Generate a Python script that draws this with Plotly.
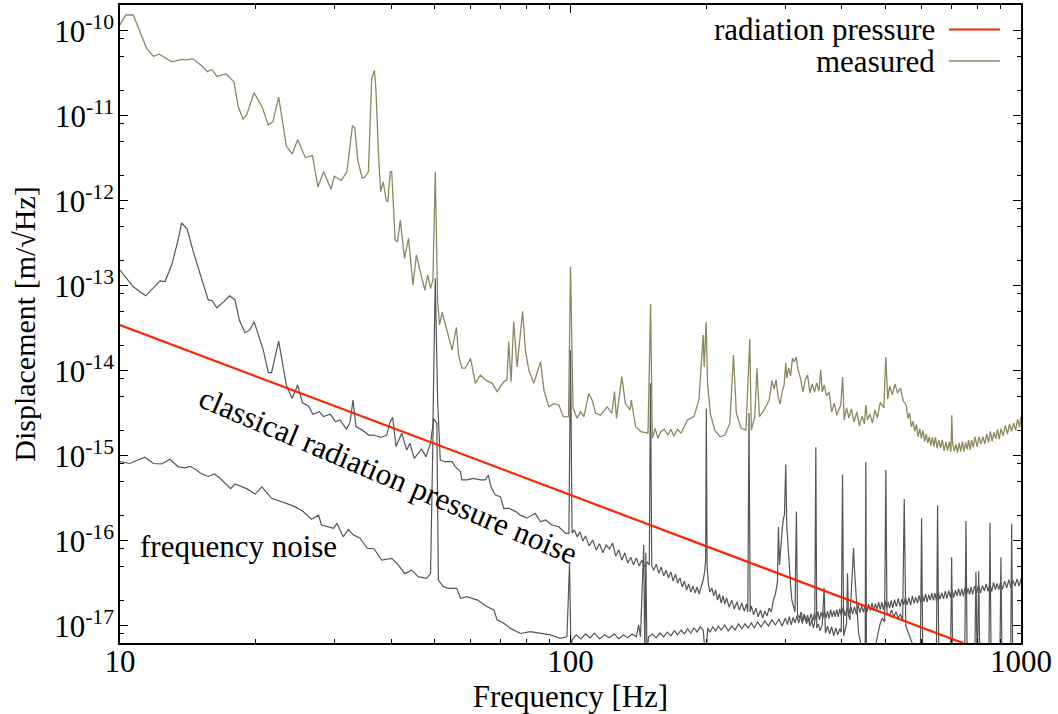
import plotly.graph_objects as go

# ---------------- data (frequency [Hz], displacement [m/sqrt(Hz)]) ----------------
measured = [
    (10.0, 1.17e-10), (10.3, 1.53e-10), (10.7, 1.53e-10), (11.08, 9.7e-11), (11.46, 6.2e-11),
    (11.86, 5.0e-11), (12.23, 5.3e-11), (13.02, 4.3e-11), (13.71, 4.6e-11), (14.0, 4.5e-11),
    (14.5, 4.7e-11), (15.2, 3.85e-11), (15.63, 3.3e-11), (16.0, 3.5e-11), (16.4, 2.9e-11),
    (17.2, 3.1e-11), (17.9, 2.5e-11), (18.3, 1.28e-11), (18.75, 9.1e-12), (19.1, 1.02e-11),
    (19.85, 1.86e-11), (20.65, 1.28e-11), (21.35, 7.8e-12), (21.85, 8.5e-12), (22.5, 1.65e-11),
    (23.4, 4.4e-12), (24.1, 3.55e-12), (24.8, 5.2e-12), (25.8, 3.2e-12), (26.75, 3.4e-12),
    (27.5, 1.45e-12), (28.3, 2.2e-12), (29.4, 1.36e-12), (29.9, 1.94e-12), (31.0, 1.73e-12),
    (31.9, 2.2e-12), (32.8, 7.6e-12), (33.2, 7.2e-12), (33.7, 3.0e-12), (34.5, 1.84e-12),
    (35.0, 1.9e-12), (35.6, 2.2e-12), (36.2, 2.75e-11), (36.7, 3.4e-11), (37.0, 2.0e-11),
    (37.5, 3.3e-12), (37.9, 1.28e-12), (38.4, 1.67e-12), (39.0, 1.0e-12), (39.3, 9.7e-13),
    (39.8, 2.2e-12), (40.1, 2.2e-12), (40.8, 3.45e-13), (41.3, 3.3e-13), (41.9, 5.9e-13),
    (42.8, 2.1e-13), (43.7, 3.6e-13), (44.7, 1.02e-13), (45.5, 2.3e-13), (46.4, 1.46e-13),
    (47.5, 8.9e-14), (48.2, 1.34e-13), (48.9, 9.3e-14), (49.5, 1.17e-13), (50.1, 2.19e-12),
    (50.7, 6.8e-14), (51.2, 3.45e-14), (51.9, 4.9e-14), (53.0, 3.3e-14), (53.7, 2.4e-14),
    (54.6, 1.75e-14), (55.8, 3.24e-14), (56.5, 1.46e-14), (57.4, 1.07e-14), (58.4, 1.07e-14),
    (60.0, 1.4e-14), (61.5, 7.1e-15), (63.1, 8.9e-15), (64.7, 7.8e-15), (67.0, 7.1e-15),
    (68.7, 5.7e-15), (71.1, 7.4e-15), (72.3, 7.8e-15), (72.9, 2.2e-14), (73.8, 7.4e-15),
    (74.8, 3.8e-14), (76.1, 1.11e-14), (78.3, 5.0e-14), (79.4, 1.75e-14), (80.8, 1.02e-14),
    (82.9, 7.1e-15), (85.8, 1.28e-14), (87.3, 5.9e-15), (89.5, 3.77e-15), (91.8, 4.1e-15),
    (94.2, 3.95e-15), (96.4, 2.88e-15), (99.0, 2.88e-15), (100.0, 1.67e-13), (101.3, 3.64e-15),
    (103.4, 2.75e-15), (105.3, 3.3e-15), (107.1, 2.88e-15), (109.8, 5.4e-15), (111.7, 4.5e-15),
    (113.7, 3.15e-15), (116.6, 3.0e-15), (120.6, 3.77e-15), (123.6, 3.15e-15), (125.2, 5.7e-15),
    (126.5, 2.75e-15), (130.0, 8.5e-15), (132.4, 4.1e-15), (135.6, 3.45e-15), (136.4, 4.5e-15),
    (139.5, 2.2e-15), (143.3, 1.92e-15), (148.6, 1.84e-15), (150.6, 6.1e-14), (151.9, 1.6e-15),
    (154.2, 2.1e-15), (156.3, 1.6e-15), (158.5, 1.9e-15), (161.5, 2.05e-15), (164.5, 1.75e-15),
    (167.0, 2.05e-15), (169.7, 1.7e-15), (172.8, 2.05e-15), (175.9, 1.84e-15), (178.8, 2.2e-15),
    (181.7, 2.63e-15), (187.9, 2.88e-15), (192.8, 4.5e-15), (197.0, 2.63e-14), (198.0, 1.11e-14),
    (200.0, 3.74e-14), (201.5, 7.1e-15), (204.3, 3.15e-15), (209.0, 2.0e-15), (214.7, 1.67e-15),
    (220.0, 1.75e-15), (225.8, 2.4e-15), (230.0, 1.53e-14), (233.4, 3.15e-15), (239.2, 2.1e-15),
    (245.2, 2.0e-15), (250.0, 2.34e-14), (252.0, 2.0e-15), (256.4, 2.88e-15), (259.4, 1.07e-14),
    (262.7, 2.88e-15), (269.0, 3.45e-15), (276.0, 4.5e-15),
    (280, 7.6e-15), (283, 6.07e-15), (286, 7.8e-15), (289, 4.92e-15), (292, 4.05e-15),
    (295, 5.6e-15), (298, 6.8e-15), (300.5, 1.24e-14), (302, 8.2e-15), (305, 1.08e-14),
    (308, 8.7e-15), (311, 1.41e-14), (314, 1.27e-14), (317, 1.45e-14), (320, 1.02e-14),
    (324, 8.2e-15), (328, 5.6e-15), (332, 7.8e-15), (336, 8.9e-15), (340, 5.45e-15),
    (344, 7.0e-15), (348, 5.6e-15), (352, 7.2e-15), (356, 5.75e-15), (359.4, 1.02e-14),
    (362, 5.6e-15), (366, 6.8e-15), (370, 5.05e-15), (375, 5.6e-15), (380, 3.27e-15),
    (385, 4.15e-15), (390, 3.0e-15), (398, 3.95e-15), (402, 8.45e-15), (405, 2.63e-15),
    (410, 3.65e-15), (415, 2.78e-15), (420, 3.55e-15), (426, 2.49e-15), (432, 3.27e-15),
    (438, 2.24e-15), (444, 2.92e-15), (449, 2.36e-15), (452.4, 3.95e-15), (456, 2.63e-15),
    (462, 3.08e-15), (468, 2.42e-15), (474, 3.45e-15), (480, 2.78e-15), (487, 4.25e-15),
    (496, 3.65e-15), (501, 1.45e-14), (506, 4.65e-15), (511, 6.6e-15), (518, 5.2e-15),
    (525, 7.0e-15), (532, 5.45e-15), (540, 6.25e-15), (548, 4.4e-15),
    (556, 3.96e-15), (561, 2.73e-15), (566, 3.19e-15), (571, 2.18e-15), (576, 2.53e-15),
    (581, 1.94e-15), (586, 2.34e-15), (591, 1.68e-15), (596, 2.08e-15), (601, 1.6e-15),
    (606, 1.99e-15), (611, 1.47e-15), (616, 1.81e-15), (621, 1.41e-15), (626, 1.67e-15),
    (631, 1.31e-15), (636, 1.66e-15), (641, 1.28e-15), (646, 1.66e-15), (651, 1.23e-15),
    (657, 1.53e-15), (663, 1.23e-15), (669, 1.54e-15), (675, 1.14e-15), (681, 1.45e-15),
    (687, 1.15e-15), (693, 1.46e-15), (699, 1.11e-15), (702, 3.0e-15), (705, 1.4e-15),
    (711, 1.13e-15), (717, 1.36e-15), (723, 1.09e-15), (729, 1.42e-15), (735, 1.12e-15),
    (741, 1.48e-15), (747, 1.12e-15), (753, 1.43e-15), (759, 1.19e-15), (765, 1.53e-15),
    (771, 1.17e-15), (777, 1.53e-15), (783, 1.25e-15), (791, 1.66e-15), (799, 1.28e-15),
    (807, 1.67e-15), (815, 1.37e-15), (823, 1.68e-15), (831, 1.37e-15), (839, 1.81e-15),
    (847, 1.43e-15), (855, 1.93e-15), (863, 1.47e-15), (871, 1.89e-15), (879, 1.58e-15),
    (887, 2.04e-15), (895, 1.57e-15), (903, 2.08e-15), (913, 1.71e-15), (923, 2.28e-15),
    (933, 1.8e-15), (943, 2.35e-15), (953, 1.94e-15), (963, 2.42e-15), (973, 2.0e-15),
    (983, 2.69e-15), (993, 2.16e-15), (1000, 2.9e-15),
]

displacement = [
    (10.0, 1.53e-13), (10.26, 1.28e-13), (10.7, 9.7e-14), (11.4, 7.6e-14), (11.86, 9.6e-14),
    (12.27, 1.14e-13), (12.59, 1.12e-13), (13.02, 1.75e-13), (13.4, 3.15e-13), (13.71, 5.5e-13),
    (14.1, 4.6e-13), (14.55, 2.5e-13), (15.2, 1.17e-13), (15.7, 6.8e-14), (16.0, 6.7e-14),
    (16.4, 5.5e-14), (17.0, 6.5e-14), (17.5, 7.6e-14), (18.0, 6.8e-14), (18.4, 3.95e-14),
    (18.95, 2.8e-14), (19.4, 3.0e-14), (19.85, 3.77e-14), (20.45, 2.3e-14), (20.8, 1.75e-14),
    (21.35, 9.5e-15), (21.7, 9.5e-15), (22.5, 2.23e-14), (23.1, 1.02e-14), (23.4, 6.8e-15),
    (24.1, 4.7e-15), (24.8, 6.8e-15), (25.4, 4.2e-15), (26.2, 3.85e-15), (26.8, 3.07e-15),
    (27.7, 3.3e-15), (28.3, 2.88e-15), (29.3, 3.07e-15), (30.1, 2.5e-15), (30.8, 2.63e-15),
    (31.8, 2.05e-15), (32.4, 2.45e-15), (32.9, 4.5e-15), (33.4, 2.2e-15), (34.5, 2.0e-15),
    (35.6, 1.75e-15), (36.6, 1.75e-15), (37.9, 1.64e-15), (39.1, 1.75e-15), (39.7, 2.45e-15),
    (40.3, 2.83e-15), (41.0, 1.28e-15), (42.2, 1.84e-15), (43.3, 1.17e-15), (44.0, 1.4e-15),
    (45.0, 9.3e-16), (46.7, 1.2e-15), (47.8, 9.7e-16), (48.9, 1.4e-15), (49.5, 2.3e-15),
    (50.1, 1.22e-13), (50.7, 4.5e-15), (51.4, 8.9e-16), (52.7, 8.5e-16), (54.6, 8.5e-16),
    (55.5, 7.4e-16), (57.0, 6.5e-16), (57.4, 5.2e-16), (58.9, 5.2e-16), (60.9, 5.4e-16),
    (63.1, 5.2e-16), (64.7, 5.2e-16), (65.7, 5.9e-16), (66.6, 4.3e-16), (68.1, 3.45e-16),
    (69.9, 3.3e-16), (71.1, 2.4e-16), (73.1, 2.4e-16), (75.6, 2.2e-16), (77.4, 2.0e-16),
    (80.0, 1.84e-16), (83.5, 2.1e-16), (85.8, 1.67e-16), (88.1, 1.75e-16), (91.0, 1.53e-16),
    (94.2, 1.46e-16), (97.5, 1.22e-16), (99.2, 1.22e-16), (100.0, 1.75e-14),
    (100.8, 1.23e-16), (102, 1.34e-16), (103.5, 1.11e-16), (105, 1.27e-16), (106.5, 9.9e-17),
    (108, 1.14e-16), (110, 8.7e-17), (112, 1.02e-16), (114, 7.8e-17), (116, 9.2e-17),
    (118, 7.2e-17), (120, 8.9e-17), (122, 8.0e-17), (124, 9.4e-17), (126, 6.6e-17),
    (128, 7.8e-17), (130, 5.9e-17), (132, 7.2e-17), (134, 5.45e-17), (136, 6.4e-17),
    (138, 5.2e-17), (140, 6.25e-17), (142, 5.05e-17), (144, 5.9e-17), (146, 4.9e-17),
    (148, 5.6e-17), (149.6, 5.2e-17), (150.5, 7.1e-15), (151.5, 5.05e-17), (153, 4.5e-17),
    (155, 5.3e-17), (157, 4.15e-17), (159, 4.9e-17), (161, 3.85e-17), (163, 4.5e-17),
    (165, 3.65e-17), (167, 4.3e-17), (169, 3.35e-17), (171, 4.05e-17), (173, 3.18e-17),
    (175, 3.65e-17), (177, 2.85e-17), (179, 3.35e-17), (181, 2.63e-17), (183, 3.1e-17),
    (185, 2.49e-17), (187, 2.92e-17), (189, 2.42e-17), (191, 2.85e-17), (193, 2.36e-17),
    (195, 2.77e-17), (197, 3.45e-17), (198.5, 4.3e-17), (199.5, 5.9e-17), (200.2, 3.6e-15),
    (201, 5.05e-17), (202.5, 3.0e-17), (204, 2.49e-17), (206, 2.77e-17), (208, 2.24e-17),
    (210, 2.63e-17), (212, 2.0e-17), (214, 2.36e-17), (216, 1.85e-17), (218, 2.24e-17),
    (220, 1.8e-17), (222, 2.12e-17), (225, 1.66e-17), (228, 2.0e-17), (231, 1.57e-17),
    (234, 1.9e-17), (237, 1.53e-17), (240, 1.85e-17), (243, 1.49e-17), (246, 1.8e-17),
    (247.5, 1.45e-17), (249, 3.18e-15), (250.5, 1.45e-17), (252, 1.7e-17), (255, 1.34e-17),
    (258, 1.61e-17), (261, 1.27e-17), (264, 1.53e-17), (267, 1.23e-17), (270, 1.49e-17),
    (273, 1.3e-17), (276, 1.61e-17), (279, 1.45e-17), (282, 2.0e-17), (285, 2.36e-17),
    (288, 3.27e-17), (289.4, 1.45e-16), (291, 5.2e-17), (293, 8.9e-17), (295, 1.34e-16),
    (297, 1.84e-16), (298.5, 2.0e-16), (300.5, 7.9e-16), (302, 1.53e-16), (304, 8.9e-17),
    (306, 4.5e-17), (308, 3.0e-17), (310, 2.0e-17), (313, 1.66e-17), (315, 1.45e-17),
    (317.3, 2.2e-16), (319, 1.37e-17), (322, 1.23e-17), (325, 1.45e-17), (328, 1.14e-17),
    (331, 1.34e-17), (334, 1.05e-17), (337, 1.23e-17), (340, 9.9e-18), (343, 1.17e-17),
    (346, 9.4e-18), (348.5, 1.11e-17), (350.4, 1.26e-15), (352, 9.4e-18), (355, 1.05e-17),
    (358, 8.7e-18), (362, 1.02e-17), (365.6, 2.77e-17), (368, 8.2e-18), (372, 9.9e-18),
    (376, 8.0e-18), (380, 9.7e-18), (384, 7.6e-18), (388, 9.4e-18), (392, 7.8e-18),
    (396, 9.2e-18), (399, 8.4e-18), (401.7, 6.0e-16), (404, 7.6e-18), (407, 9.4e-18),
    (410, 1.05e-17), (412, 4.15e-17), (414, 1.34e-17), (417, 1.17e-17), (420, 2.63e-17),
    (422.5, 5.2e-17), (424.9, 8.2e-17), (427, 4.5e-17), (430, 2.3e-17), (433, 1.17e-17),
    (436, 8.2e-18), (440, 6.45e-18), (444, 4.95e-18), (448, 4.0e-18), (450.8, 3.95e-18),
    (452.4, 8.4e-16), (454, 3.95e-18), (462, 4.5e-18), (468, 3.95e-18), (474, 5.5e-18),
    (480.3, 8.2e-18), (486, 1.02e-17), (492, 1.23e-17), (498, 1.11e-17), (501.2, 6.8e-16),
    (504, 1.45e-17), (510, 1.3e-17), (516, 1.53e-17), (522, 1.27e-17), (528, 1.45e-17),
    (534, 1.23e-17), (540, 1.37e-17), (546, 1.14e-17), (550.6, 3.1e-16), (555, 9.9e-18),
    (560, 8.7e-18), (566, 7.6e-18), (572, 6.45e-18), (578, 5.2e-18), (585, 3.75e-18),
    (597.5, 3.0e-18), (601.6, 1.84e-16), (605.7, 3.0e-18), (625, 2.63e-18), (648.4, 2.85e-18),
    (652.9, 2.6e-16), (657.4, 2.85e-18), (680, 2.63e-18), (697, 2.63e-18), (701.5, 6.4e-17),
    (706, 2.63e-18), (730, 2.85e-18), (749.5, 2.63e-18), (754.8, 1.7e-16), (760, 2.63e-18),
    (789, 2.63e-18), (794.3, 4.3e-17), (799.8, 2.63e-18), (805.4, 4.4e-17), (811, 2.63e-18),
    (835, 2.85e-18), (848, 2.63e-18), (853.3, 1.63e-16), (858.6, 2.63e-18), (880, 2.63e-18),
    (897, 2.63e-18), (902.6, 6.4e-17), (908, 2.63e-18), (935, 2.85e-18), (948, 2.63e-18),
    (953.5, 1.58e-16), (959, 2.63e-18), (1000, 2.63e-18),
]

frequency_noise = [
    (10.0, 8.5e-16), (10.5, 8.1e-16), (10.96, 8.9e-16), (11.36, 9.6e-16), (11.86, 8.1e-16),
    (12.37, 8.0e-16), (12.9, 9.1e-16), (13.47, 7.4e-16), (13.94, 7.2e-16), (14.3, 7.5e-16),
    (14.8, 6.8e-16), (15.1, 6.2e-16), (15.7, 5.7e-16), (16.2, 6.1e-16), (16.7, 5.4e-16),
    (17.6, 4.1e-16), (18.0, 4.65e-16), (19.1, 4.1e-16), (19.95, 3.54e-16), (20.65, 4.3e-16),
    (21.7, 3.15e-16), (22.4, 3.0e-16), (23.4, 2.75e-16), (24.5, 2.5e-16), (25.5, 2.2e-16),
    (26.6, 1.79e-16), (27.6, 2.0e-16), (28.0, 1.53e-16), (29.8, 1.4e-16), (30.3, 1.6e-16),
    (31.3, 1.11e-16), (32.1, 1.36e-16), (32.98, 1.17e-16), (34.1, 1.07e-16), (35.4, 8.1e-17),
    (36.6, 8.1e-17), (38.1, 5.9e-17), (40.1, 6.2e-17), (41.2, 5.4e-17), (42.9, 4.1e-17),
    (44.4, 4.5e-17), (45.9, 3.77e-17), (47.9, 3.6e-17), (48.9, 4.1e-17), (49.6, 2.75e-15),
    (50.5, 2.4e-15), (50.9, 3.45e-17), (52.2, 2.88e-17), (53.6, 2.75e-17), (55.9, 2.75e-17),
    (57.0, 2.1e-17), (58.9, 2.2e-17), (62.2, 2.0e-17), (65.3, 1.67e-17), (67.6, 1.53e-17),
    (68.7, 1.17e-17), (71.1, 1.07e-17), (73.6, 9.3e-18), (77.4, 8.1e-18), (81.4, 8.5e-18),
    (85.8, 8.1e-18), (90.2, 7.8e-18), (94.9, 7.1e-18), (98.2, 7.4e-18), (99.5, 5.4e-17),
    (100.3, 3.95e-18), (100.8, 6.8e-18), (103, 7.8e-18), (105.5, 7.0e-18), (108, 8.0e-18),
    (110.5, 7.2e-18), (113, 8.2e-18), (116, 7.0e-18), (119, 7.8e-18), (122, 7.2e-18),
    (125, 8.0e-18), (128, 7.0e-18), (131, 7.8e-18), (134, 7.2e-18), (137, 8.0e-18),
    (140, 7.4e-18), (141.7, 1.02e-17), (143, 7.4e-18), (145.4, 8.9e-17), (146.2, 3.95e-18),
    (147, 7.2e-17), (147.8, 3.95e-18), (149, 7.4e-18), (152, 8.0e-18), (155, 7.2e-18),
    (158, 8.2e-18), (161, 7.4e-18), (164, 8.4e-18), (167, 7.6e-18), (170, 8.7e-18),
    (173, 7.8e-18), (176, 8.9e-18), (179, 8.0e-18), (182, 9.2e-18), (185, 8.2e-18),
    (188, 9.4e-18), (191, 8.4e-18), (194, 9.7e-18), (197, 8.9e-18), (199.6, 3.95e-18),
    (201.6, 9.4e-18), (204, 8.4e-18), (207, 9.7e-18), (210, 8.7e-18), (213, 9.9e-18),
    (216, 8.9e-18), (220, 1.02e-17), (224, 8.7e-18), (228, 9.9e-18), (232, 8.9e-18),
    (236, 1.05e-17), (240, 9.2e-18), (244, 1.05e-17), (248, 9.4e-18), (252, 1.08e-17),
    (256, 9.4e-18), (260, 1.11e-17), (265, 9.7e-18), (270, 1.14e-17), (275, 9.9e-18),
    (280, 1.17e-17), (285, 1.02e-17), (290, 1.2e-17), (295, 9.9e-18),
    (300, 1.23e-17), (303, 1.03e-17), (306, 1.28e-17), (309, 1.02e-17), (312, 1.25e-17),
    (315, 1.08e-17), (318, 1.31e-17), (321, 1.07e-17), (324, 1.31e-17), (327, 1.06e-17),
    (330, 1.37e-17), (333, 1.12e-17), (336, 1.33e-17), (339, 1.12e-17), (342, 1.39e-17),
    (345, 1.13e-17), (348, 1.41e-17), (351, 1.17e-17), (354, 1.46e-17), (357, 1.17e-17),
    (360, 1.43e-17), (363, 1.22e-17), (366, 1.49e-17), (369, 1.22e-17), (372, 1.48e-17),
    (375, 1.21e-17), (378, 1.55e-17), (381, 1.26e-17), (384, 1.5e-17), (387, 1.27e-17),
    (390, 1.56e-17), (393, 1.27e-17), (396, 1.58e-17), (399, 1.32e-17), (403, 1.64e-17),
    (407, 1.31e-17), (411, 1.6e-17), (415, 1.38e-17), (419, 1.68e-17), (423, 1.37e-17),
    (427, 1.67e-17), (431, 1.36e-17), (435, 1.75e-17), (439, 1.43e-17), (443, 1.7e-17),
    (447, 1.44e-17), (451, 1.77e-17), (455, 1.45e-17), (459, 1.8e-17), (463, 1.5e-17),
    (467, 1.86e-17), (471, 1.49e-17), (475, 1.82e-17), (479, 1.56e-17), (483, 1.9e-17),
    (487, 1.55e-17), (491, 1.89e-17), (495, 1.54e-17), (499, 1.97e-17), (503, 1.61e-17),
    (507, 1.9e-17), (511, 1.61e-17), (515, 1.99e-17), (519, 1.62e-17), (524, 2.02e-17),
    (529, 1.68e-17), (534, 2.09e-17), (539, 1.68e-17), (544, 2.05e-17), (549, 1.77e-17),
    (554, 2.15e-17), (559, 1.76e-17), (564, 2.14e-17), (569, 1.74e-17), (574, 2.24e-17),
    (579, 1.83e-17), (584, 2.17e-17), (589, 1.84e-17), (594, 2.27e-17), (599, 1.85e-17),
    (604, 2.3e-17), (609, 1.92e-17), (614, 2.37e-17), (619, 1.9e-17), (624, 2.32e-17),
    (629, 2.0e-17), (634, 2.42e-17), (639, 1.98e-17), (644, 2.41e-17), (649, 1.96e-17),
    (655, 2.51e-17), (661, 2.06e-17), (667, 2.44e-17), (673, 2.07e-17), (679, 2.55e-17),
    (685, 2.08e-17), (691, 2.59e-17), (697, 2.16e-17), (703, 2.68e-17), (709, 2.14e-17),
    (715, 2.62e-17), (721, 2.24e-17), (727, 2.73e-17), (733, 2.23e-17), (739, 2.72e-17),
    (745, 2.21e-17), (751, 2.83e-17), (757, 2.32e-17), (763, 2.75e-17), (769, 2.33e-17),
    (775, 2.87e-17), (781, 2.33e-17), (789, 2.92e-17), (797, 2.43e-17), (805, 3.02e-17),
    (813, 2.42e-17), (821, 2.96e-17), (829, 2.55e-17), (837, 3.1e-17), (845, 2.54e-17),
    (853, 3.1e-17), (861, 2.52e-17), (869, 3.24e-17), (877, 2.65e-17), (885, 3.15e-17),
    (893, 2.66e-17), (901, 3.28e-17), (910, 2.68e-17), (920, 3.34e-17), (930, 2.79e-17),
    (940, 3.47e-17), (950, 2.79e-17), (960, 3.41e-17), (970, 2.93e-17), (980, 3.56e-17),
    (990, 2.92e-17), (1000, 3.56e-17),
]

radiation_pressure_f = [10.0, 1000.0]
radiation_pressure_v = [3.45e-14, 3.45e-18]

x_major = [10, 100, 1000]
x_labels = ["10", "100", "1000"]
x_minor = [20, 30, 40, 50, 60, 70, 80, 90, 200, 300, 400, 500, 600, 700, 800, 900]

y_major = [1e-17, 1e-16, 1e-15, 1e-14, 1e-13, 1e-12, 1e-11, 1e-10]
y_labels = ["10<sup>-17</sup>", "10<sup>-16</sup>", "10<sup>-15</sup>", "10<sup>-14</sup>",
            "10<sup>-13</sup>", "10<sup>-12</sup>", "10<sup>-11</sup>", "10<sup>-10</sup>"]
y_minor = [8e-18, 2e-17, 5e-17, 8e-17, 2e-16, 5e-16, 8e-16, 2e-15, 5e-15, 8e-15,
           2e-14, 5e-14, 8e-14, 2e-13, 5e-13, 8e-13, 2e-12, 5e-12, 8e-12,
           2e-11, 5e-11, 8e-11]

# ---------------- figure ----------------
FONT = "Liberation Serif, Times New Roman, serif"
GRAY = "#555555"
OLIVE = "#8c8860"
RED = "#ff2200"

fig = go.Figure()
fig.add_trace(go.Scatter(x=[p[0] for p in frequency_noise], y=[p[1] for p in frequency_noise],
                         mode="lines", line=dict(color=GRAY, width=1.2),
                         name="frequency noise", showlegend=False))
fig.add_trace(go.Scatter(x=[p[0] for p in displacement], y=[p[1] for p in displacement],
                         mode="lines", line=dict(color=GRAY, width=1.2),
                         name="displacement", showlegend=False))
fig.add_trace(go.Scatter(x=[p[0] for p in measured], y=[p[1] for p in measured],
                         mode="lines", line=dict(color=OLIVE, width=1.3),
                         name="measured", showlegend=False))
fig.add_trace(go.Scatter(x=radiation_pressure_f, y=radiation_pressure_v,
                         mode="lines", line=dict(color=RED, width=2.2),
                         name="radiation pressure", showlegend=False))

axis_common = dict(
    type="log", showline=True, linecolor="black", linewidth=1.5, mirror="allticks",
    ticks="inside", ticklen=8, tickwidth=1, tickcolor="black", showgrid=False,
    zeroline=False, tickmode="array", automargin=False, ticklabeloverflow="allow",
)

fig.update_layout(
    width=1058, height=714,
    margin=dict(l=120, r=37, t=5, b=71),
    paper_bgcolor="white", plot_bgcolor="white",
    font=dict(family=FONT, size=31, color="black"),
    xaxis=dict(axis_common, range=[1, 3], tickvals=x_major, ticktext=x_labels,
               tickfont=dict(size=31), ticklabelstandoff=-10,
               minor=dict(tickmode="array", tickvals=x_minor, ticks="inside", ticklen=4,
                          tickwidth=1, tickcolor="black", showgrid=False),
               title=dict(text="Frequency [Hz]", font=dict(size=31), standoff=3)),
    yaxis=dict(axis_common, range=[-17.2035, -9.6976], tickvals=y_major, ticktext=y_labels,
               tickfont=dict(size=31), ticklabelstandoff=-2,
               minor=dict(tickmode="array", tickvals=y_minor, ticks="inside", ticklen=4,
                          tickwidth=1, tickcolor="black", showgrid=False),
               title=dict(text="Displacement [m/√Hz]", font=dict(size=30), standoff=10)),
)

# legend drawn gnuplot-style (text, then line sample)
legend_items = [("radiation pressure", RED, 2.2, 0.9616), ("measured", OLIVE, 1.3, 0.9122)]
for text, color, width, ypos in legend_items:
    fig.add_annotation(xref="paper", yref="paper", x=0.9068, y=ypos, text=text,
                       showarrow=False, xanchor="right", yanchor="middle",
                       font=dict(size=31, family=FONT))
    fig.add_shape(type="line", xref="paper", yref="paper", x0=0.920, x1=0.9767,
                  y0=ypos, y1=ypos, line=dict(color=color, width=width))

fig.add_annotation(xref="paper", yref="paper", x=0.2975, y=0.2633,
                   text="classical radiation pressure noise", textangle=23,
                   showarrow=False, xanchor="center", yanchor="middle",
                   font=dict(size=31, family=FONT))
fig.add_annotation(xref="paper", yref="paper", x=0.131, y=0.1505,
                   text="frequency noise", showarrow=False,
                   xanchor="center", yanchor="middle",
                   font=dict(size=31, family=FONT))

# remove the default page margin so the 1058x714 figure fills the window exactly
fig.write_html("out.html", config={"displayModeBar": False},
               post_script="document.body.style.margin='0px';")
